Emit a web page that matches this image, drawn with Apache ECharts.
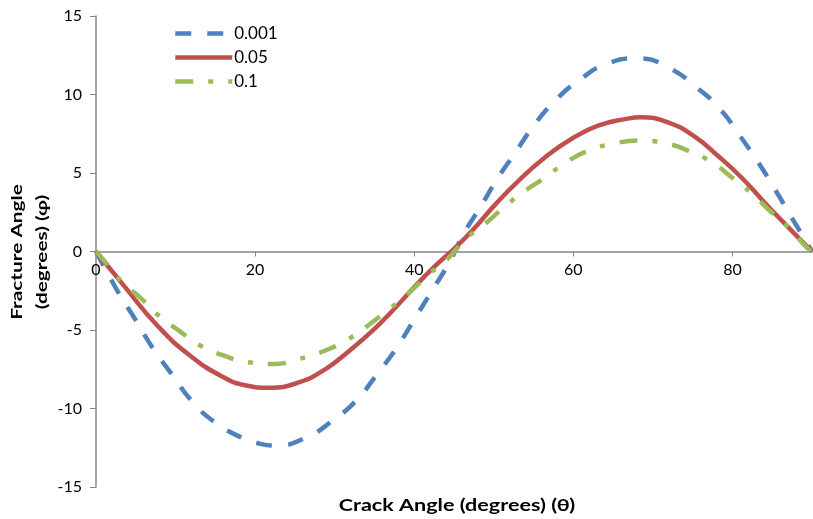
<!DOCTYPE html>
<html>
<head>
<meta charset="utf-8">
<script src="https://cdn.jsdelivr.net/npm/echarts@6/dist/echarts.min.js"></script>
<style>html,body{margin:0;padding:0;background:#fff}#c{width:813px;height:519px}</style>
</head>
<body>
<div id="c"></div>
<script>
// Crack angle θ (deg) and fracture angle φ (deg)
var theta001 = [0, 2.8, 4.9, 7.2, 9.5, 12.0, 15.0, 18.5, 20.2, 22.6, 26.4, 29.8, 32.7, 35.2, 37.7, 39.8, 42.1, 44.4, 46.3, 48.4, 50.4, 52.7, 55.0, 57.7, 60.7, 64.2, 68.2, 72.2, 75.5, 78.4, 80.9, 83.2, 85.3, 87.4, 89.3, 90];
var phi001 = [0, -2.6, -4.3, -6.2, -7.8, -9.5, -10.9, -11.9, -12.2, -12.36, -11.85, -10.75, -9.5, -7.9, -6.2, -4.5, -2.6, -0.7, 1.2, 2.9, 4.6, 6.3, 8.0, 9.6, 10.9, 11.95, 12.3, 11.65, 10.45, 9.1, 7.4, 5.7, 4.0, 2.2, 0.6, 0];
var theta05 = [0, 3.5, 7.7, 11.8, 16.0, 18.9, 21.7, 25.6, 28.9, 31.9, 34.8, 37.3, 39.8, 42.7, 45.0, 47.3, 50.2, 53.2, 56.5, 59.8, 63.2, 66.7, 68.4, 71.9, 75.3, 78.2, 81.1, 84.0, 87.0, 90];
var phi05 = [0, -2.17, -4.71, -6.62, -8.0, -8.54, -8.68, -8.32, -7.47, -6.3, -5.03, -3.76, -2.38, -0.89, 0.17, 1.34, 3.0, 4.55, 6.02, 7.18, 8.03, 8.45, 8.55, 8.22, 7.3, 6.08, 4.73, 3.14, 1.55, 0];
var theta1 = [0, 1.0, 3.3, 5.6, 8.1, 10.5, 13.1, 16.0, 19.1, 22.5, 25.6, 28.5, 31.4, 34.2, 36.9, 39.2, 41.9, 44.2, 46.5, 48.8, 51.3, 53.8, 56.5, 59.0, 61.9, 65.0, 68.2, 71.5, 74.4, 77.4, 79.9, 82.4, 84.9, 87.2, 89.3, 90];
var phi1 = [0, -0.57, -1.95, -2.95, -4.18, -5.07, -5.99, -6.62, -7.05, -7.16, -6.83, -6.37, -5.67, -4.71, -3.65, -2.69, -1.42, -0.47, 0.81, 1.72, 2.82, 3.82, 4.73, 5.65, 6.43, 6.86, 7.07, 6.9, 6.43, 5.69, 4.73, 3.71, 2.5, 1.45, 0.28, 0];
var seriesNames = ['0.001', '0.05', '0.1'];
var xTicks = [0, 20, 40, 60, 80];
var yTicks = [-15, -10, -5, 0, 5, 10, 15];
var xTitle = 'Crack Angle (degrees) (θ)';
var yTitle1 = 'Fracture Angle';
var yTitle2 = '(degrees) (φ)';

function pairs(xs, ys) { return xs.map(function (t, i) { return [t, ys[i]]; }); }

var FONT = 'Lato, "Liberation Sans", sans-serif';
var chart = echarts.init(document.getElementById('c'), null, {renderer: 'canvas'});
chart.setOption({
  animation: false,
  backgroundColor: '#fff',
  grid: {left: 96, right: 1, top: 16, bottom: 32, containLabel: false},
  legend: {
    orient: 'vertical', left: 168, top: 20, itemWidth: 57, itemHeight: 14, itemGap: 7,
    itemStyle: {opacity: 0},
    lineStyle: {width: 4.5},
    textStyle: {fontFamily: FONT, fontSize: 17, color: '#000', padding: [0, 0, 0, -3]},
    data: seriesNames
  },
  xAxis: {
    type: 'value', min: 0, max: 90, interval: 20,
    offset: -235.5,
    axisLine: {onZero: false, lineStyle: {color: '#868686', width: 1.5}},
    axisTick: {show: true, inside: false, length: 5, lineStyle: {color: '#868686'}},
    axisLabel: {fontFamily: FONT, fontSize: 16, color: '#000', margin: 10, showMaxLabel: false,
      formatter: function (v) { return xTicks.indexOf(v) >= 0 ? String(v) : ''; }},
    splitLine: {show: false}
  },
  yAxis: {
    type: 'value', min: yTicks[0], max: yTicks[yTicks.length - 1], interval: 5,
    axisLine: {show: true, onZero: false, lineStyle: {color: '#868686', width: 1.5}},
    axisTick: {show: true, inside: false, length: 6, lineStyle: {color: '#868686'}},
    axisLabel: {fontFamily: FONT, fontSize: 16, color: '#000', margin: 14},
    splitLine: {show: false}
  },
  graphic: [
    {type: 'text', x: 457, y: 506, scaleX: 1.27, style: {text: xTitle, fontFamily: FONT, fontSize: 17, fontWeight: 'bold', fill: '#000', align: 'center', verticalAlign: 'middle'}},
    {type: 'text', x: 17, y: 252, rotation: Math.PI / 2, scaleX: 1.3, style: {text: yTitle1, fontFamily: FONT, fontSize: 16, fontWeight: 'bold', fill: '#000', align: 'center', verticalAlign: 'middle'}},
    {type: 'text', x: 42, y: 252, rotation: Math.PI / 2, scaleX: 1.3, style: {text: yTitle2, fontFamily: FONT, fontSize: 16, fontWeight: 'bold', fill: '#000', align: 'center', verticalAlign: 'middle'}}
  ],
  series: [
    {name: seriesNames[0], type: 'line', data: pairs(theta001, phi001), smooth: 0.5, showSymbol: false, symbol: 'none',
      lineStyle: {color: '#4F81BD', width: 4.5, type: [16, 16]}, itemStyle: {color: '#4F81BD'}, z: 3},
    {name: seriesNames[1], type: 'line', data: pairs(theta05, phi05), smooth: 0.5, showSymbol: false, symbol: 'none',
      lineStyle: {color: '#C0504D', width: 4.5, type: 'solid'}, itemStyle: {color: '#C0504D'}, z: 4},
    {name: seriesNames[2], type: 'line', data: pairs(theta1, phi1), smooth: 0.5, showSymbol: false, symbol: 'none',
      lineStyle: {color: '#9BBB59', width: 4.5, type: [18, 15, 5, 15]}, itemStyle: {color: '#9BBB59'}, z: 5}
  ]
});
</script>
</body>
</html>
